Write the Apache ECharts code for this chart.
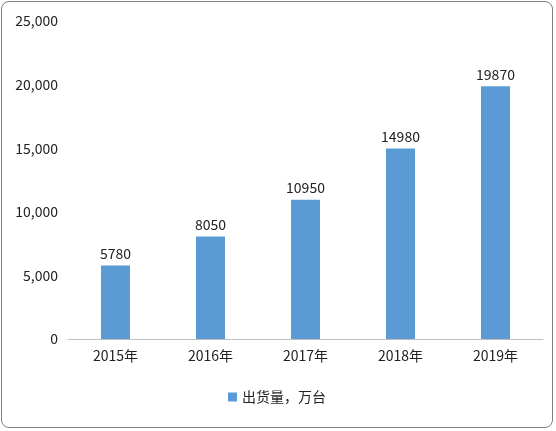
<!DOCTYPE html>
<html><head><meta charset="utf-8">
<script src="https://cdn.jsdelivr.net/npm/echarts@6/dist/echarts.min.js"></script>
<style>html,body{margin:0;padding:0;background:#fff}
#c{width:552px;height:427px;margin:1px;border:1px solid #808080;border-radius:8px;box-sizing:border-box}</style>
</head><body><div id="c"></div>
<script>
const categories=['2015年','2016年','2017年','2018年','2019年'];
const values=[5780,8050,10950,14980,19870];
const seriesName='出货量，万台';
const ch=echarts.init(document.getElementById('c'));
ch.setOption({
  animation:false,
  textStyle:{fontFamily:'Noto Sans CJK SC'},
  grid:{left:66,right:9,top:19,bottom:88},
  legend:{bottom:18,itemWidth:9,itemHeight:9,icon:'rect',textStyle:{fontSize:14,color:'#222'},data:[seriesName]},
  xAxis:{type:'category',data:categories,axisTick:{show:false},axisLine:{lineStyle:{color:'#bfbfbf'}},axisLabel:{fontSize:14,color:'#222',margin:10}},
  yAxis:{type:'value',min:0,max:25000,interval:5000,splitLine:{show:false},axisLine:{show:false},axisTick:{show:false},axisLabel:{fontSize:14,color:'#222',margin:10}},
  series:[{name:seriesName,type:'bar',data:values,barWidth:29,itemStyle:{color:'#5b9bd5'},label:{show:true,position:'top',fontSize:14,color:'#222'}}]
});
</script></body></html>
